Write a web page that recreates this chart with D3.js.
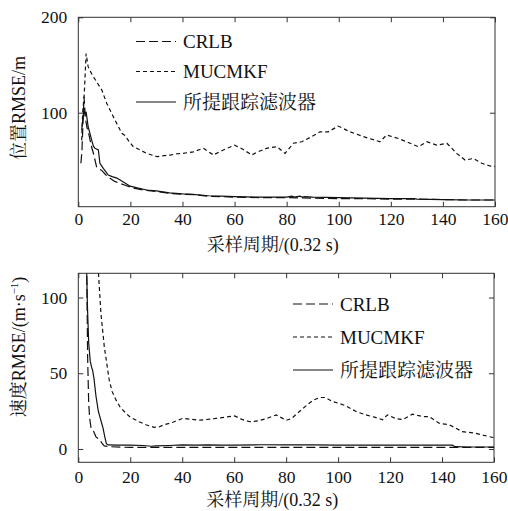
<!DOCTYPE html>
<html><head><meta charset="utf-8">
<script src="https://cdn.jsdelivr.net/npm/d3@7"></script>
<style>
body{margin:0;background:#fff;}
text{fill:#111;}
.sf{font-family:"Liberation Serif","Tinos","DejaVu Serif","FreeSerif","Nimbus Roman","Times New Roman",Times,serif;}
.cj{font-family:"Liberation Serif","Tinos","DejaVu Serif","Noto Serif CJK SC","Noto Sans CJK SC",serif;}
</style></head>
<body><svg id="c" width="508" height="511"></svg>
<script>
// ---------- data ----------
const xTicks = [0,20,40,60,80,100,120,140,160];
const posTicks = [100,200];
const velTicks = [0,50,100];
const seriesNames = ["CRLB","MUCMKF","所提跟踪滤波器"];

// position RMSE (m)
const posCrlbX = [1,1.4,2.2,2.7,3.3,4,4.5,5.2,5.8,7,8,9,10.5,12.2,14,16,18,21.1,25,30,35,40,45,50,55,60,70,80,90,100,110,120,130,140,150,160];
const posCrlbY = [47,60,117,95,85,78,71.5,63,57.5,43.4,41,39.5,35,31.2,28,26,24,21,19,17.5,15.5,14.5,14,12.5,12,11.5,11,11,10.5,10,10,9.5,9.5,9,8.5,8.5];
const posMucX = [1.3,1.7,2.3,3,3.8,5.1,7,9,10.9,13.4,16.7,18,19.2,21.1,23,26.3,30.1,33,35.2,38,40.1,44.2,48,51.9,55.7,60,63,66.6,69,72.3,76.2,79.4,82.6,85.8,89.6,92.8,96,99.8,104.3,109.4,115.8,118.4,122.9,127.4,130.6,133.8,137.6,141.5,145.3,148.5,151.7,154.9,158,160];
const posMucY = [71,101,120,162,148,141,132.5,124,110,96,78.4,76,71,64.4,62,57.4,54,55,55.6,57,57.4,59,62.7,55.7,61,66,62,55.7,59,62.7,64.4,57.4,68,69.6,75,80,80,86,80,75,69.6,76.6,73,68,64.4,69.6,66,68,57.4,50.4,52,47,44.2,43.6];
const posPropX = [1.3,1.8,2.2,2.6,3,3.8,4.5,5.1,5.8,6.4,7,7.7,8.3,9.6,11.5,13,14.8,17,19.9,23,26.3,30,35,40,44,50,55,60,70,80,82,83,85,86,87,90,100,110,120,129,130,140,150,160];
const posPropY = [82,95,103,98,101,85,78,71.5,65,62.7,62,61,47,41.7,34.7,33,31.5,28,23,21,19,18,16,15,14.5,13,12.5,12,11.5,11.5,12.5,11.5,12.5,11.5,12,11.5,11,10.5,10,10,9.5,9,8.5,8.5];

// velocity RMSE (m/s)
const velCrlbX = [2.8,3.3,3.6,4,4.4,4.9,5.8,6.8,8.3,9,10,12,20,40,60,80,100,120,140,160];
const velCrlbY = [140,110,60,30,20,14,12,8,6,4,2,1.5,1,1,1,1,1,1,1,1];
const velMucX = [7.5,7.8,8.7,10,11.9,13,14.5,16,18.3,20,23.4,26,29.2,31,33,36.2,40.1,46.7,53.1,60.2,63,66,69,72.3,76.2,80,82,85.1,88,90.2,93,95,97.9,100.5,103,106.9,110.7,114,117.1,119,122.3,125,128.6,132.5,135,138.9,142.7,147.8,152.9,158,160];
const velMucY = [130,115,89.7,67.6,45.6,38,32.4,28,23.6,21,18,16,14.3,14.5,16,17.5,20.2,19,20.2,21.8,19.5,18,18.5,20,22.5,18.9,20,24.7,29,32,34,34,31.3,30,28.5,24.7,22.5,21,19.3,22.5,20,19.5,23,21.4,21.4,17,16,11.5,10.4,8.2,7.5];
const velPropX = [3.0,3.2,3.5,4,4.6,5.1,5.5,6,6.8,7.7,8.5,9.5,10.2,10.8,11.5,15,20,25,28,30,35,40,45,50,55,60,70,80,90,100,110,120,130,140,144,145,150,160];
const velPropY = [140,120,95,70,58,54,52,47,35,25,20,14,8,3.5,2.7,2.5,2.5,2.3,1.8,2,2.3,2.7,2.5,2.7,2.5,2.6,2.8,2.7,2.7,2.5,2.5,2.5,2.5,2.5,2.5,1.5,1.3,1.3];

// ---------- drawing ----------
const svg = d3.select("#c");
const dashes = ["9,4","4,3",null];

function panel(o){
  const x = d3.scaleLinear().domain([0,160]).range([o.left,o.right]);
  const y = d3.scaleLinear().domain(o.ydom).range([o.bottom,o.top]);
  const g = svg.append("g");
  const id = "clip"+o.key;
  svg.append("clipPath").attr("id",id).append("rect")
    .attr("x",o.left).attr("y",o.top).attr("width",o.right-o.left).attr("height",o.bottom-o.top);

  g.append("rect").attr("x",o.left).attr("y",o.top).attr("width",o.right-o.left).attr("height",o.bottom-o.top)
    .attr("fill","none").attr("stroke","#333").attr("stroke-width",1);

  const axB = g.append("g").attr("transform",`translate(0,${o.bottom})`)
    .call(d3.axisBottom(x).tickValues(xTicks).tickSize(-5).tickPadding(o.xpad).tickFormat(d3.format("d")));
  const axT = g.append("g").attr("transform",`translate(0,${o.top})`)
    .call(d3.axisTop(x).tickValues(xTicks).tickSize(-5).tickFormat(""));
  const axL = g.append("g").attr("transform",`translate(${o.left},0)`)
    .call(d3.axisLeft(y).tickValues(o.yticks).tickSize(-5).tickPadding(11).tickFormat(d3.format("d")));
  const axR = g.append("g").attr("transform",`translate(${o.right},0)`)
    .call(d3.axisRight(y).tickValues(o.yticks).tickSize(-5).tickFormat(""));
  [axB,axT,axL,axR].forEach(a=>{
    a.attr("font-family",null).attr("font-size",null);
    a.select(".domain").remove();
    a.selectAll("line").attr("stroke","#333");
    a.selectAll("text").attr("class","sf").style("font-size","17.5px").attr("fill","#111");
  });
  axB.selectAll("text").filter(d=>d===160).attr("text-anchor","end").attr("dx",13);

  const line = d3.line().x(d=>x(d[0])).y(d=>y(d[1]));
  const lg = g.append("g").attr("clip-path",`url(#${id})`);
  o.series.forEach((s,i)=>{
    const pts = s[0].map((v,j)=>[v,s[1][j]]);
    lg.append("path").datum(pts).attr("d",line).attr("fill","none")
      .attr("stroke","#111").attr("stroke-width",1.2)
      .attr("stroke-dasharray",dashes[i]);
  });

  seriesNames.forEach((n,i)=>{
    const yy = o.legY[i];
    g.append("line").attr("x1",o.legX).attr("x2",o.legX+40).attr("y1",yy).attr("y2",yy)
      .attr("stroke","#111").attr("stroke-width",1.2).attr("stroke-dasharray",dashes[i]);
    g.append("text").attr("class","cj").attr("x",o.legX+47).attr("y",yy).attr("dy","0.35em")
      .style("font-size","19px").text(n);
  });

  g.append("text").attr("class","cj").attr("x",(o.left+o.right)/2-14).attr("y",o.xlabY).attr("text-anchor","middle")
    .style("font-size","18px").text("采样周期/(0.32 s)");
  const yl = g.append("text").attr("class","cj").attr("transform",`translate(${o.ylabX},${o.ylabCY}) rotate(-90)`)
    .attr("text-anchor","middle").style("font-size","18px");
  yl.text(o.ylab);
  if(o.ysup){ yl.append("tspan").attr("dy",-7).style("font-size","11px").text(o.ysup);
              yl.append("tspan").attr("dy",7).text(")"); }
}

panel({key:"a", left:78.3, right:495, top:17.3, bottom:206.7, ydom:[1.5,200], yticks:posTicks, xpad:6,
  series:[[posCrlbX,posCrlbY],[posMucX,posMucY],[posPropX,posPropY]],
  legX:136, legY:[41.5,71.5,102], xlabY:251, ylabX:25, ylabCY:108, ylab:"位置RMSE/m"});

panel({key:"b", left:78.3, right:494, top:273.3, bottom:462.3, ydom:[-8.8,116], yticks:velTicks, xpad:8,
  series:[[velCrlbX,velCrlbY],[velMucX,velMucY],[velPropX,velPropY]],
  legX:293, legY:[304,337,370], xlabY:506, ylabX:25, ylabCY:347, ylab:"速度RMSE/(m·s", ysup:"−1"});
</script></body></html>
